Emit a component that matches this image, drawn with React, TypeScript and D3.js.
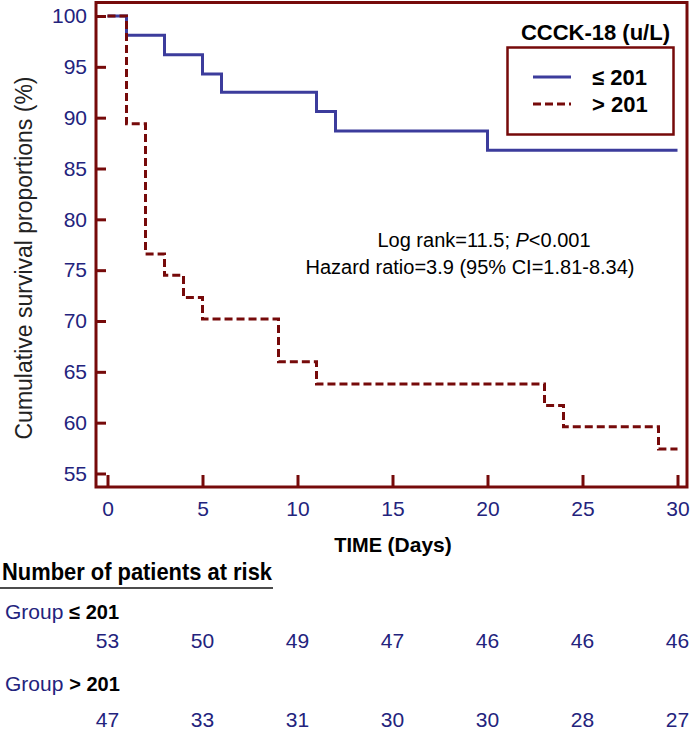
import * as d3 from "d3";
import { useEffect, useRef } from "react";

// Kaplan-Meier steps
const lowTimes = [0, 1, 3, 5, 6, 11, 12, 20, 30];
const lowSurv = [100, 98.1, 96.2, 94.3, 92.5, 90.6, 88.7, 86.8, 86.8];
const highTimes = [0, 1, 2, 3, 4, 5, 9, 11, 23, 24, 29, 30];
const highSurv = [100, 89.4, 76.6, 74.5, 72.3, 70.2, 66.0, 63.8, 61.7, 59.6, 57.4, 57.4];

const xTicks = [0, 5, 10, 15, 20, 25, 30];
const yTicks = [55, 60, 65, 70, 75, 80, 85, 90, 95, 100];

// number at risk, one per x tick
const riskLow = [53, 50, 49, 47, 46, 46, 46];
const riskHigh = [47, 33, 31, 30, 30, 28, 27];

const FONT = "'Liberation Sans', Arial, sans-serif";
const RED = "#760a0a";
const BLUE = "#3c3c9c";
const NAVY = "#23237d";

const App = () => {
  const svgRef = useRef(null);

  useEffect(() => {
    const w = 691;
    const h = 733;
    const svg = d3.select(svgRef.current);
    svg.selectAll("*").remove();
    svg.attr("width", w).attr("height", h).style("font-family", FONT);

    const x = d3.scaleLinear().domain([0, 30]).range([107.5, 677.5]);
    const y = d3.scaleLinear().domain([55, 100]).range([473.5, 16]);

    const left = 96;
    const top = 2.5;
    const right = 687;
    const bottom = 487;

    // axes (ticks pointing inwards)
    const yAxis = d3.axisLeft(y).tickValues(yTicks).tickSizeInner(-10).tickSizeOuter(0).tickPadding(9);
    const gy = svg.append("g").attr("transform", `translate(${left},0)`).call(yAxis);
    gy.select(".domain").remove();
    gy.selectAll("line").attr("stroke", RED).attr("stroke-width", 3);
    gy.selectAll("text").attr("fill", NAVY).style("font-size", "21px").style("font-family", FONT);

    const xAxis = d3.axisBottom(x).tickValues(xTicks).tickSizeInner(-12).tickSizeOuter(0).tickPadding(14);
    const gx = svg.append("g").attr("transform", `translate(0,${bottom})`).call(xAxis);
    gx.select(".domain").remove();
    gx.selectAll("line").attr("stroke", RED).attr("stroke-width", 3);
    gx.selectAll("text").attr("fill", NAVY).style("font-size", "21px").style("font-family", FONT);

    // frame
    svg.append("rect")
      .attr("x", left).attr("y", top)
      .attr("width", right - left).attr("height", bottom - top)
      .attr("fill", "none").attr("stroke", RED).attr("stroke-width", 3);

    // survival curves
    const line = d3.line()
      .x((d) => x(d[0]))
      .y((d) => y(d[1]))
      .curve(d3.curveStepAfter);

    svg.append("path")
      .attr("d", line(lowTimes.map((t, i) => [t, lowSurv[i]])))
      .attr("fill", "none").attr("stroke", BLUE).attr("stroke-width", 3);
    svg.append("path")
      .attr("d", line(highTimes.map((t, i) => [t, highSurv[i]])))
      .attr("fill", "none").attr("stroke", RED).attr("stroke-width", 3)
      .attr("stroke-dasharray", "8,4");

    // legend
    svg.append("text").attr("x", 670).attr("y", 32).attr("dy", "0.35em")
      .attr("text-anchor", "end").attr("font-weight", "bold").attr("font-size", 22)
      .text("CCCK-18 (u/L)");
    svg.append("rect").attr("x", 507.5).attr("y", 47.5).attr("width", 166).attr("height", 87)
      .attr("fill", "none").attr("stroke", RED).attr("stroke-width", 2.5);
    const legend = [
      { label: "≤ 201", color: BLUE, dash: null },
      { label: "> 201", color: RED, dash: "8,4" },
    ];
    legend.forEach((d, i) => {
      const ly = 77 + i * 27;
      svg.append("line").attr("x1", 533).attr("x2", 571).attr("y1", ly).attr("y2", ly)
        .attr("stroke", d.color).attr("stroke-width", 3).attr("stroke-dasharray", d.dash);
      svg.append("text").attr("x", 592).attr("y", ly).attr("dy", "0.35em")
        .attr("font-weight", "bold").attr("font-size", 22).text(d.label);
    });

    // statistics
    const stat = svg.append("text").attr("x", 484).attr("y", 240).attr("dy", "0.35em")
      .attr("text-anchor", "middle").attr("font-size", 20);
    stat.append("tspan").text("Log rank=11.5; ");
    stat.append("tspan").attr("font-style", "italic").text("P");
    stat.append("tspan").text("<0.001");
    svg.append("text").attr("x", 470).attr("y", 267).attr("dy", "0.35em")
      .attr("text-anchor", "middle").attr("font-size", 20)
      .text("Hazard ratio=3.9 (95% CI=1.81-8.34)");

    // axis titles
    svg.append("text").attr("transform", "translate(24,258) rotate(-90)")
      .attr("text-anchor", "middle").attr("dy", "0.35em").attr("font-size", 23).attr("fill", "#222")
      .text("Cumulative survival proportions (%)");
    const xt = svg.append("text").attr("x", 393).attr("y", 545).attr("dy", "0.35em")
      .attr("text-anchor", "middle").attr("font-size", 21).attr("font-weight", "bold");
    xt.append("tspan").attr("font-size", 20).text("TIME ");
    xt.append("tspan").text("(Days)");

    // numbers at risk
    svg.append("text").attr("x", 2).attr("y", 580).attr("font-size", 24).attr("font-weight", "bold")
      .attr("textLength", 270).attr("lengthAdjust", "spacingAndGlyphs")
      .text("Number of patients at risk");
    svg.append("line").attr("x1", 0).attr("x2", 273).attr("y1", 588).attr("y2", 588)
      .attr("stroke", "#111").attr("stroke-width", 1.5);

    const groups = [
      { label: "≤ 201", values: riskLow, gy: 612, ny: 641 },
      { label: "> 201", values: riskHigh, gy: 684, ny: 720 },
    ];
    groups.forEach((g) => {
      const t = svg.append("text").attr("x", 5).attr("y", g.gy).attr("dy", "0.35em").attr("font-size", 21);
      t.append("tspan").attr("fill", NAVY).text("Group ");
      t.append("tspan").attr("font-weight", "bold").attr("font-size", 20).text(g.label);
      svg.append("g").selectAll("text").data(g.values).join("text")
        .attr("x", (d, i) => x(xTicks[i]))
        .attr("y", g.ny).attr("dy", "0.35em")
        .attr("text-anchor", "middle").attr("font-size", 21).attr("fill", NAVY)
        .text((d) => d);
    });
  }, []);

  return <svg ref={svgRef} style={{ position: "absolute", left: 0, top: 0 }}></svg>;
};

export default App;
